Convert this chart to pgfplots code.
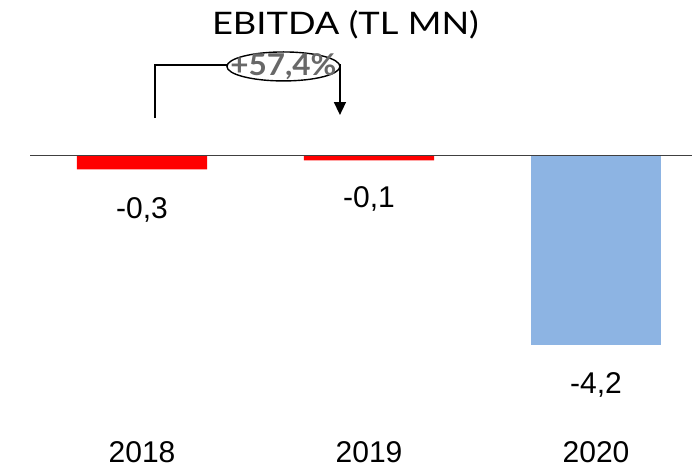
\documentclass[border=0pt]{standalone}
\usepackage{fontspec}
\setmainfont{Liberation Sans}
\newfontfamily\gill{Lato}
\usepackage{graphicx}
\usepackage{pgfplots}
\pgfplotsset{compat=1.18}
\usetikzlibrary{arrows.meta,shapes.geometric}
\definecolor{barred}{HTML}{FF0000}
\definecolor{barblue}{HTML}{8DB4E3}
\definecolor{pctgray}{HTML}{686868}

\begin{document}
\begin{tikzpicture}
\begin{axis}[
    name=ax,
    scale only axis,
    width=692pt, height=468pt,
    xmin=-0.6256, xmax=2.4229,
    ymin=-6.9333, ymax=3.4667,
    hide axis,
    clip=false,
    ybar, bar width=0.573, bar shift=0pt,
]
% EBITDA, TL MN
\addplot[fill=barred, draw=none] coordinates {(0,-0.3) (1,-0.1)};
\addplot[fill=barblue, draw=none] coordinates {(2,-4.2)};

% baseline
\draw[line width=1pt, black!75] (axis cs:-0.493,0) -- (axis cs:2.4229,0);

% value labels
\node[font=\fontsize{30}{36}\selectfont] at (axis cs:0,-1.2) {-0,3};
\node[font=\fontsize{30}{36}\selectfont] at (axis cs:1,-0.956) {-0,1};
\node[font=\fontsize{30}{36}\selectfont] at (axis cs:2,-5.09) {-4,2};

% categories
\node[font=\fontsize{30}{36}\selectfont] at (axis cs:0,-6.58) {2018};
\node[font=\fontsize{30}{36}\selectfont] at (axis cs:1,-6.58) {2019};
\node[font=\fontsize{30}{36}\selectfont] at (axis cs:2,-6.58) {2020};

% title
\node[font=\gill\fontsize{31}{36}\selectfont] at (axis cs:0.896,2.91) {\scalebox{1.17}[1]{EBITDA (TL MN)}};

% growth bracket
\draw[line width=1.5pt, -{Triangle[length=13pt,width=12pt]}]
    (axis cs:0.057,0.844) -- (axis cs:0.057,2.022) -- (axis cs:0.872,2.022) -- (axis cs:0.872,0.911);
\node[ellipse, draw, line width=1.4pt, fill=white, inner sep=0pt,
      minimum width=113pt, minimum height=29pt] at (axis cs:0.623,1.99) {};
\node[font=\gill\bfseries\fontsize{30}{32}\selectfont, text=pctgray, inner sep=0pt]
    at (axis cs:0.623,1.99) {\scalebox{1.05}[1]{+57,4\%}};
\end{axis}
\pgfresetboundingbox
\path[use as bounding box] (ax.south west) rectangle (ax.north east);
\end{tikzpicture}
\end{document}
